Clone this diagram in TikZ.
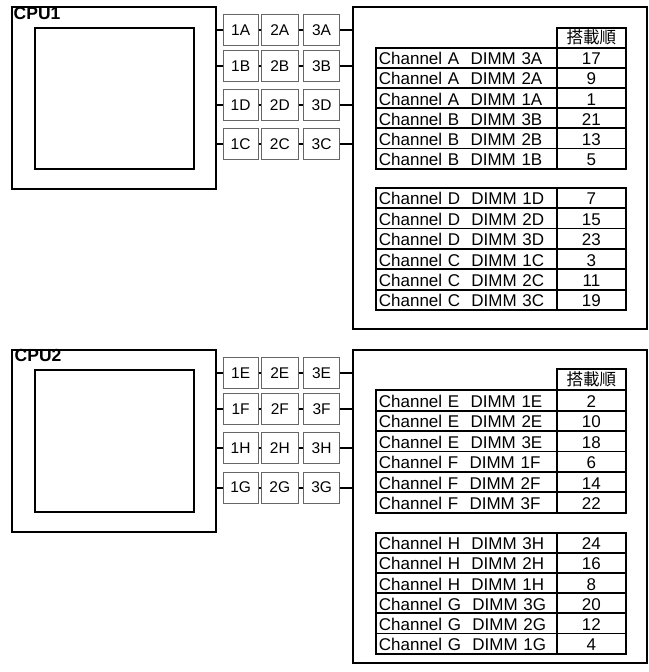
\documentclass[tikz,border=0pt]{standalone}
\usepackage{fontspec}
\setmainfont{Liberation Sans}
\newfontfamily\jpfont{Noto Sans CJK JP}
\tikzset{
  frame/.style={draw, line width=2pt, inner sep=0pt, anchor=north west},
  dimm/.style={draw=black!60, fill=white, line width=0.9pt, inner sep=0pt, minimum width=35pt, minimum height=31pt, anchor=north west, font=\fontsize{15.5}{17}\selectfont},
  wire/.style={line width=2pt},
  cpulabel/.style={anchor=base west, inner sep=0pt, font=\bfseries\fontsize{17.5}{19}\selectfont},
  chcell/.style={draw, line width=1.8pt, anchor=north west, text width=175pt, inner xsep=3pt, inner ysep=0pt, text height=15.5pt, text depth=1.5pt, align=left, font=\fontsize{17}{19}\selectfont},
  numcell/.style={draw, line width=1.8pt, anchor=north west, minimum width=69pt, inner sep=0pt, text height=15.5pt, text depth=1.5pt, align=center, font=\fontsize{17}{19}\selectfont},
  headcell/.style={draw, line width=1.8pt, anchor=north west, minimum width=69pt, inner sep=0pt, align=center, font=\jpfont\fontsize{16.5}{18}\selectfont}
}
\newcommand\memtab[4]{%
  \foreach \chn/\dm/\nm [count=\i from 0] in {#4} {
    \pgfmathsetmacro\yy{#2+\i*#3}
    \node[chcell, minimum height=#3pt] (#1c\i) at (375,\yy) {Channel \chn\ \ DIMM \dm};
    \node[numcell, minimum height=#3pt] (#1n\i) at (556,\yy) {\nm};
  }%
}
\begin{document}
\begin{tikzpicture}[x=1pt,y=-1pt]
\useasboundingbox (0,0) rectangle (648,672);

% ---------- CPU1 ----------
\node[frame, minimum width=204pt, minimum height=182.3pt] (cpuA) at (11,5.7) {};
\node[frame, minimum width=159pt, minimum height=141.3pt] (coreA) at (34,26.7) {};
\node[cpulabel] (labA) at (13.5,19.3) {CPU1};
\node[frame, minimum width=293.7pt, minimum height=322.6pt] (memA) at (352.3,5.7) {};
\foreach \ch/\y in {A/14,B/50.2,D/89.3,C/128.3}{
  \node[dimm] (a1\ch) at (222.7,\y) {1\ch};
  \node[dimm, minimum width=36.7pt] (a2\ch) at (261,\y) {2\ch};
  \node[dimm, minimum width=36.3pt] (a3\ch) at (303,\y) {3\ch};
  \draw[wire] (cpuA.east |- a1\ch.west) -- (a1\ch.west);
  \draw[wire] (a1\ch.east) -- (a2\ch.west);
  \draw[wire] (a2\ch.east) -- (a3\ch.west);
  \draw[wire] (a3\ch.east) -- (a3\ch.east -| memA.west);
}
\node[headcell, minimum height=20pt] (hA) at (556,26.7) {搭載順};
\memtab{ta}{46.7}{20.17}{A/3A/17, A/2A/9, A/1A/1, B/3B/21, B/2B/13, B/1B/5}
\memtab{tb}{186.7}{20.43}{D/1D/7, D/2D/15, D/3D/23, C/1C/3, C/2C/11, C/3C/19}

% ---------- CPU2 ----------
\node[frame, minimum width=204pt, minimum height=182pt] (cpuB) at (11,349) {};
\node[frame, minimum width=159pt, minimum height=142pt] (coreB) at (34,369) {};
\node[cpulabel] (labB) at (14.5,361.7) {CPU2};
\node[frame, minimum width=293.7pt, minimum height=312.7pt] (memB) at (352.3,349) {};
\foreach \ch/\y in {E/357.3,F/393.4,H/432.4,G/471.6}{
  \node[dimm] (b1\ch) at (222.7,\y) {1\ch};
  \node[dimm, minimum width=36.7pt] (b2\ch) at (261,\y) {2\ch};
  \node[dimm, minimum width=36.3pt] (b3\ch) at (303,\y) {3\ch};
  \draw[wire] (cpuB.east |- b1\ch.west) -- (b1\ch.west);
  \draw[wire] (b1\ch.east) -- (b2\ch.west);
  \draw[wire] (b2\ch.east) -- (b3\ch.west);
  \draw[wire] (b3\ch.east) -- (b3\ch.east -| memB.west);
}
\node[headcell, minimum height=21pt] (hB) at (556,368.3) {搭載順};
\memtab{tc}{389.3}{20.4}{E/1E/2, E/2E/10, E/3E/18, F/1F/6, F/2F/14, F/3F/22}
\memtab{td}{531.7}{20.17}{H/3H/24, H/2H/16, H/1H/8, G/3G/20, G/2G/12, G/1G/4}
\end{tikzpicture}
\end{document}
